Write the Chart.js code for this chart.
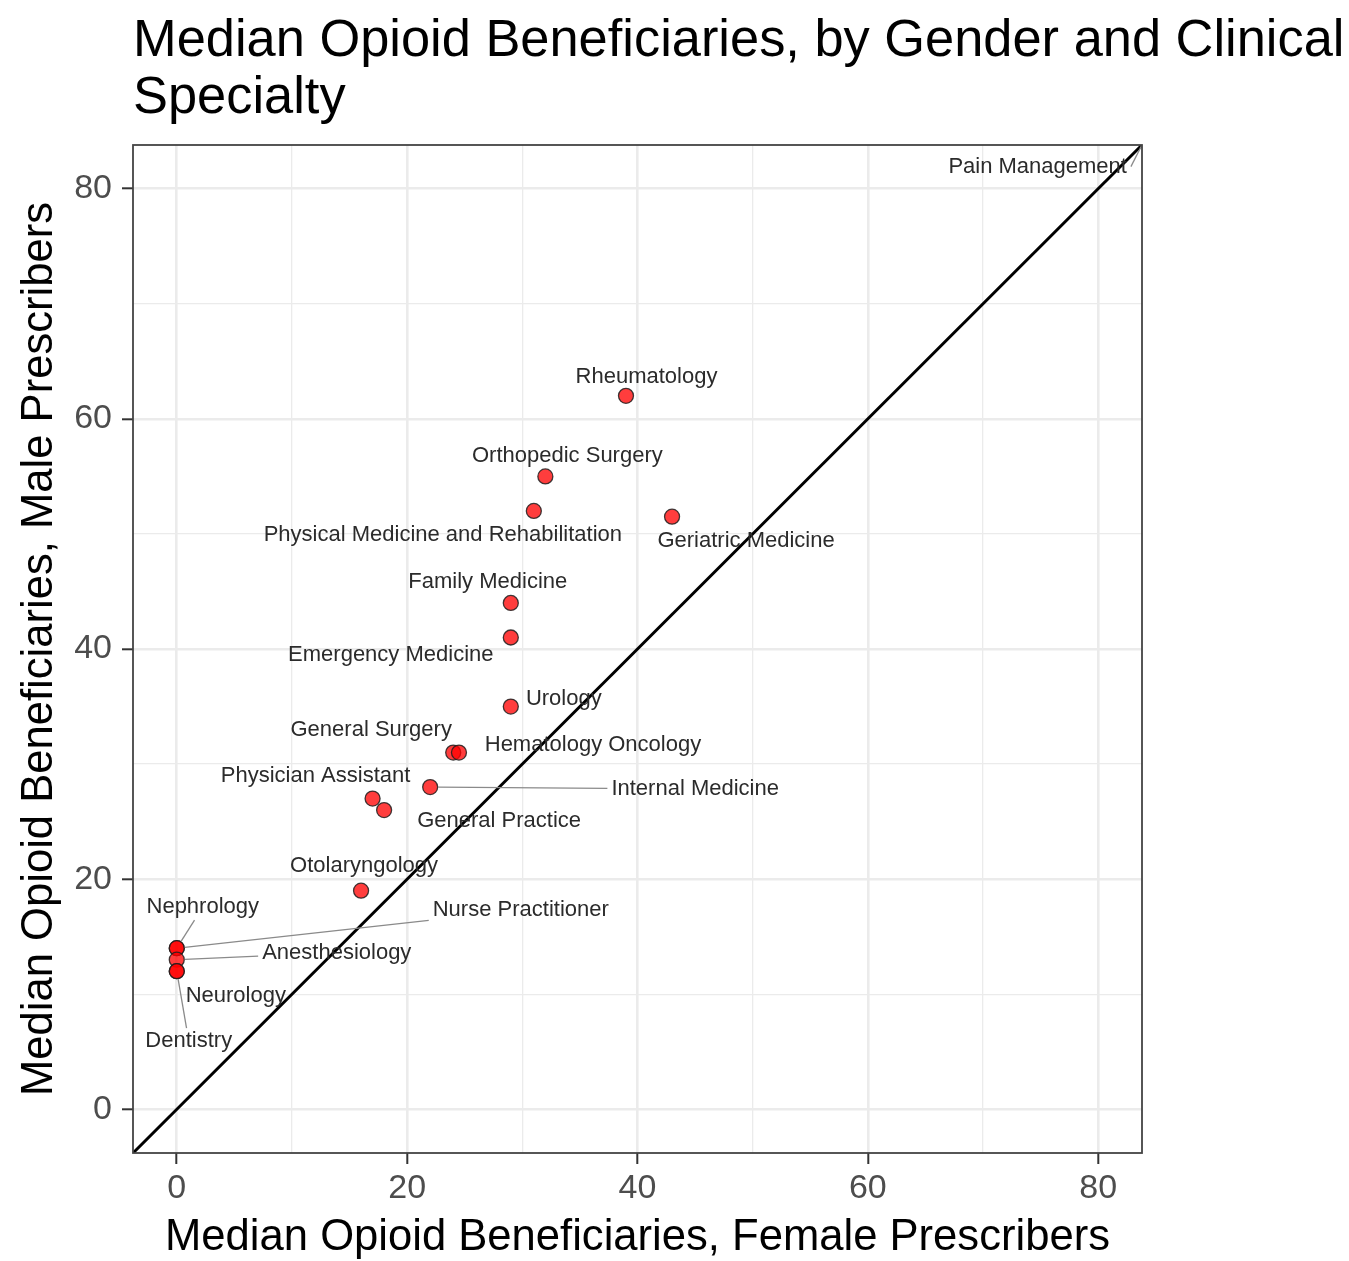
<!DOCTYPE html>
<html><head><meta charset="utf-8">
<script src="https://cdn.jsdelivr.net/npm/chart.js@4.4.1/dist/chart.umd.min.js"></script>
<style>html,body{margin:0;padding:0;background:#fff;}</style>
</head><body>
<canvas id="c" width="1349" height="1261" style="display:block"></canvas>
<script>
// ---- data ----
const titleLines = ["Median Opioid Beneficiaries, by Gender and Clinical", "Specialty"];
const xTitle = "Median Opioid Beneficiaries, Female Prescribers";
const yTitle = "Median Opioid Beneficiaries, Male Prescribers";
const specialties = ["Pain Management","Rheumatology","Orthopedic Surgery","Physical Medicine and Rehabilitation",
  "Geriatric Medicine","Family Medicine","Emergency Medicine","Urology","General Surgery","Hematology Oncology",
  "Physician Assistant","Internal Medicine","General Practice","Otolaryngology","Nephrology","Nurse Practitioner",
  "Anesthesiology","Neurology","Dentistry"];
const femaleMedian = [89.5, 39, 32, 31, 43, 29, 29, 29, 24, 24.5, 17, 22, 18, 16, 0, 0, 0, 0, 0];
const maleMedian   = [95, 62, 55, 52, 51.5, 44, 41, 35, 31, 31, 27, 28, 26, 19, 14, 14, 13, 12, 12];
const majorTicks = [0, 20, 40, 60, 80];
const minorTicks = [10, 30, 50, 70];
const axisMin = -3.8, axisMax = 83.8;
const identityLine = [{x: -10, y: -10}, {x: 100, y: 100}]; // y = x

// ---- label layout: pixel offset of label centre from the point, segment mode ----
// segment modes: null = none, 'center' = toward label centre, 'right' = from right edge of label
const labelLayout = [
  [-170, 150.5, 'right'], [20.5, -19, null], [22, -20, null], [-91, 24, null],
  [74, 24, null], [-23, -21, null], [-120, 17, null], [53, -8, null],
  [-82, -23, null], [134, -8, null], [-57, -23, null], [265, 2, 'center'],
  [115, 11, null], [3, -25, null], [26, -41, 'center'], [344, -38, 'center'],
  [160, -7, 'center'], [59, 25, null], [12, 70, 'center']
];

const FAM = "'Liberation Sans', Arial, Helvetica, sans-serif";
const isMajor = v => majorTicks.includes(v);

const decorPlugin = {
  id: 'decor',
  afterDatasetsDraw(chart) {
    const {ctx, chartArea: a} = chart;
    const meta = chart.getDatasetMeta(0);
    ctx.save();
    ctx.beginPath(); ctx.rect(a.left, a.top, a.right - a.left, a.bottom - a.top); ctx.clip();
    ctx.font = '22px ' + FAM;
    // segments
    meta.data.forEach((pt, i) => {
      const [dx, dy, mode] = labelLayout[i];
      if (!mode) return;
      const cx = pt.x + dx, cy = pt.y + dy;
      const w = ctx.measureText(specialties[i]).width;
      const hw = w / 2 + 4, hh = 13;
      let ex, ey;
      if (mode === 'right') {
        ex = cx + hw; ey = cy;
      } else {
        const vx = pt.x - cx, vy = pt.y - cy;
        const t = Math.min(hw / Math.max(Math.abs(vx), 1e-6), hh / Math.max(Math.abs(vy), 1e-6));
        ex = cx + vx * t; ey = cy + vy * t;
      }
      const len = Math.hypot(ex - pt.x, ey - pt.y);
      const r = 8;
      if (len <= r) return;
      const sx = pt.x + (ex - pt.x) / len * r, sy = pt.y + (ey - pt.y) / len * r;
      ctx.strokeStyle = '#8a8a8a'; ctx.lineWidth = 1.3;
      ctx.beginPath(); ctx.moveTo(sx, sy); ctx.lineTo(ex, ey); ctx.stroke();
    });
    // text
    ctx.fillStyle = '#2b2b2b';
    ctx.textAlign = 'center'; ctx.textBaseline = 'middle';
    meta.data.forEach((pt, i) => {
      const [dx, dy] = labelLayout[i];
      ctx.fillText(specialties[i], pt.x + dx, pt.y + dy);
    });
    ctx.restore();
  },
  afterDraw(chart) {
    const {ctx, chartArea: a} = chart;
    ctx.save();
    ctx.strokeStyle = '#444'; ctx.lineWidth = 1.8;
    ctx.strokeRect(a.left, a.top, a.right - a.left, a.bottom - a.top);
    ctx.fillStyle = '#000';
    ctx.font = '52.4px ' + FAM;
    ctx.textAlign = 'left'; ctx.textBaseline = 'alphabetic';
    ctx.fillText(titleLines[0], 133, 56);
    ctx.fillText(titleLines[1], 133, 113);
    ctx.restore();
  }
};

function axisCommon(fitFn, title, titlePad) {
  return {
    type: 'linear', min: axisMin, max: axisMax,
    afterBuildTicks: s => { s.ticks = majorTicks.concat(minorTicks).sort((a, b) => a - b).map(v => ({value: v})); },
    afterFit: fitFn,
    ticks: {
      autoSkip: false, maxRotation: 0, color: '#4D4D4D',
      font: {family: FAM, size: 34},
      callback: v => isMajor(v) ? String(v) : ''
    },
    grid: {
      color: '#EBEBEB',
      lineWidth: c => (c.tick && isMajor(c.tick.value)) ? 2.6 : 1.3,
      tickLength: 11,
      tickColor: c => (c.tick && isMajor(c.tick.value)) ? '#333' : 'rgba(0,0,0,0)',
      tickWidth: 2
    },
    border: {display: false},
    title: {display: true, text: title, color: '#000', font: {family: FAM, size: 43.6}, padding: titlePad}
  };
}

const xAxis = axisCommon(s => { s.height = 108; }, xTitle, {top: 0, bottom: -3});
xAxis.ticks.padding = 4;
const yAxis = axisCommon(s => { s.width = 133; }, yTitle, {top: 13.8, bottom: 0});
yAxis.ticks.padding = 10;

new Chart(document.getElementById('c'), {
  type: 'scatter',
  data: {
    datasets: [
      {
        label: 'Specialties',
        data: femaleMedian.map((f, i) => ({x: f, y: maleMedian[i]})),
        backgroundColor: 'rgba(255,0,0,0.76)',
        borderColor: 'rgba(30,30,30,0.85)',
        borderWidth: 1.3,
        pointRadius: 7.5,
        pointHoverRadius: 7.5,
        order: 1
      },
      {
        type: 'line',
        label: 'y = x',
        data: identityLine,
        borderColor: '#000',
        borderWidth: 3,
        pointRadius: 0,
        fill: false,
        clip: 0,
        order: 0
      }
    ]
  },
  options: {
    responsive: false,
    animation: false,
    devicePixelRatio: 1,
    layout: {padding: {top: 145, right: 207, bottom: 0, left: 0}},
    plugins: {legend: {display: false}, tooltip: {enabled: false}, title: {display: false}},
    scales: {x: xAxis, y: yAxis}
  },
  plugins: [decorPlugin]
});
</script>
</body></html>
